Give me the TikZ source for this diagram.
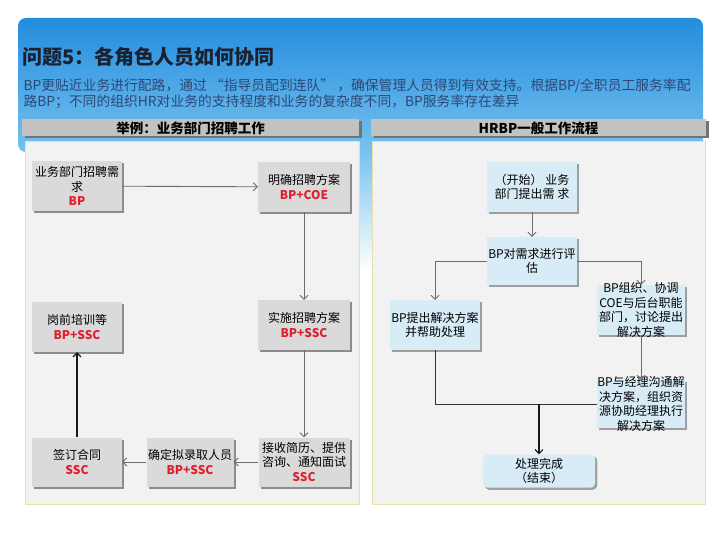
\documentclass[tikz,border=0pt]{standalone}
\usepackage{fontspec}
\setmainfont{Noto Sans CJK SC}
\usetikzlibrary{arrows.meta,shadows}

\definecolor{hdrtop}{RGB}{36,140,222}
\definecolor{hdrbot}{RGB}{118,194,238}
\definecolor{titleink}{RGB}{26,34,50}
\definecolor{subink}{RGB}{44,72,118}
\definecolor{barfill}{RGB}{194,194,194}
\definecolor{panelfill}{RGB}{242,242,242}
\definecolor{panelrim}{RGB}{232,226,170}
\definecolor{boxgray}{RGB}{218,218,218}
\definecolor{boxblue}{RGB}{216,236,248}
\definecolor{rolered}{RGB}{226,30,44}

\newcommand\rolename[1]{{\color{rolered}\bfseries #1}}

\begin{document}
\begin{tikzpicture}[x=1pt,y=-1pt,
  headbar/.style={fill=barfill,minimum height=17pt,inner sep=0pt,
    font=\fontsize{13.5}{16}\selectfont\bfseries,
    drop shadow={shadow xshift=2.5pt,shadow yshift=-2pt,fill=black!55,opacity=1}},
  panel/.style={draw=panelrim,fill=panelfill,line width=1pt},
  graybox/.style={fill=boxgray,minimum width=90pt,minimum height=50pt,inner sep=1pt,
    align=center,font=\fontsize{12}{14.5}\selectfont,
    drop shadow={shadow xshift=2pt,shadow yshift=-2pt,fill=black!45,opacity=1}},
  bluebox/.style={graybox,fill=boxblue,
    drop shadow={shadow xshift=2pt,shadow yshift=-2pt,fill=black!38,opacity=1}},
  flow/.style={draw=black!58,line width=0.9pt,-{Straight Barb[length=4pt,width=8pt]}},
  flowdark/.style={flow,draw=black!90,line width=1.1pt},
  link/.style={draw=black!80,line width=0.9pt}]
\useasboundingbox (0,0) rectangle (720,540);

% Blue banner behind the title, fading out between the two panels.
\shade[top color=hdrtop,bottom color=hdrbot,rounded corners=8pt]
  (18,18) rectangle (703,152);
\shade[top color=hdrbot,bottom color=white] (356,150) rectangle (375,270);

\node[anchor=west,font=\fontsize{20}{24}\selectfont\bfseries,text=titleink] (title)
  at (19,57) {问题5：各角色人员如何协同};
\node[anchor=west,font=\fontsize{13.8}{16}\selectfont,text=subink] (sub1) at (20,86)
  {BP更贴近业务进行配路，通过 “指导员配到连队” ，确保管理人员得到有效支持。根据BP/全职员工服务率配};
\node[anchor=west,font=\fontsize{13.8}{16}\selectfont,text=subink] (sub2) at (20,102)
  {路BP；不同的组织HR对业务的支持程度和业务的复杂度不同，BP服务率存在差异};

% Two panels with their grey title bars.
\draw[panel] (25,142) rectangle (359,504);
\draw[panel] (372,142) rectangle (705,504);
\node[headbar,minimum width=337pt] (exbar) at (190.5,128) {举例：业务部门招聘工作};
\node[headbar,minimum width=335pt] (flowbar) at (538.5,128) {HRBP一般工作流程};

% Left panel: recruiting loop.
\node[graybox] (need) at (77,186) {业务部门招聘需\\求\\\rolename{BP}};
\node[graybox,minimum width=92pt] (plan) at (304,187) {明确招聘方案\\\rolename{BP+COE}};
\node[graybox,minimum width=92pt] (launch) at (304,325) {实施招聘方案\\\rolename{BP+SSC}};
\node[graybox] (train) at (77,327) {岗前培训等\\\rolename{BP+SSC}};
\node[graybox,minimum height=49pt] (sign) at (77,462) {签订合同\\\rolename{SSC}};
\node[graybox,minimum width=87pt,minimum height=49pt] (hire) at (190,462)
  {确定拟录取人员\\\rolename{BP+SSC}};
\node[graybox,minimum width=91pt,minimum height=49pt] (screen) at (304,462)
  {接收简历、提供\\咨询、通知面试\\\rolename{SSC}};

\draw[flow] (need) -- (plan);
\draw[flow] (plan) -- (launch);
\draw[flow] (launch) -- (screen);
\draw[flow] (screen) -- (hire);
\draw[flow] (hire) -- (sign);
\draw[flowdark] (sign) -- (train);

% Right panel: general HRBP flow; two boxes let their text run over the edges.
\node[bluebox] (start) at (532,187) {（开始） 业务\\部门提出需 求};
\node[bluebox,minimum height=48pt] (assess) at (532,261) {BP对需求进行评\\估};
\node[bluebox] (solve) at (435,325) {BP提出解决方案\\并帮助处理};
\node[bluebox,minimum width=88pt,
  label={[align=center,font=\fontsize{12}{14.7}\selectfont]center:{BP组织、协调\\COE与后台职能\\部门，讨论提出\\解决方案}}]
  (coord) at (641,310) {};
\node[bluebox,minimum width=88pt,minimum height=48pt,
  label={[align=center,font=\fontsize{12}{14.7}\selectfont]center:{BP与经理沟通解\\决方案，组织资\\源协助经理执行\\解决方案}}]
  (carry) at (641,404) {};
\node[bluebox,rounded corners=4pt,minimum width=112pt,minimum height=33pt] (done)
  at (539,471) {处理完成\\（结束）};

\draw[flow] (start) -- (assess);
\draw[flow] (assess.west) -| (solve.north);
\draw[flow] (assess.east) -| (coord.north);
\draw[flow] (coord) -- (carry);
\draw[link] (solve.south) |- (carry.west);
\coordinate (merge) at (done.north |- carry.west);
\draw[flowdark] (merge) -- (done.north);
\end{tikzpicture}
\end{document}
